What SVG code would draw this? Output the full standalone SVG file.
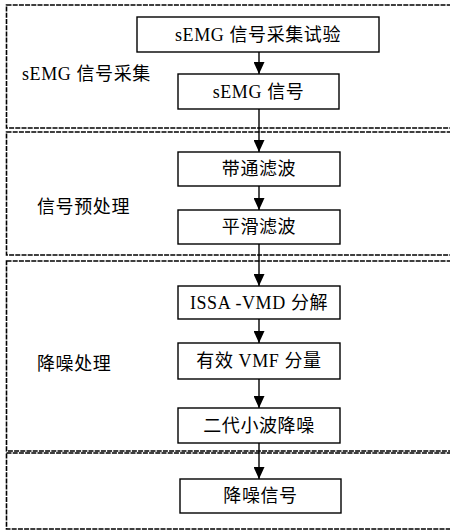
<svg xmlns="http://www.w3.org/2000/svg" width="450" height="530" viewBox="0 0 450 530">
  <style>
    .section { fill: none; stroke: #000; stroke-width: 1.6; stroke-dasharray: 5 1.2; }
    .node rect { fill: #fff; stroke: #000; stroke-width: 1.4; }
    text { font-family: "Liberation Serif", "Noto Sans CJK SC", serif; font-size: 18px; letter-spacing: 0.6px; fill: #000; }
    .node text { text-anchor: middle; }
    .link { stroke: #000; stroke-width: 1.4; fill: none; marker-end: url(#arrow); }
  </style>
  <defs>
    <marker id="arrow" markerUnits="userSpaceOnUse" markerWidth="13" markerHeight="11" refX="12" refY="5.5" orient="auto">
      <path d="M0,0 L12,5.5 L0,11 Z" fill="#000"/>
    </marker>
  </defs>
  <rect width="450" height="530" fill="#fff"/>

  <!-- stage frames -->
  <g id="stages">
    <rect class="section" x="6.5" y="5" width="460" height="123"/>
    <rect class="section" x="6.5" y="132" width="460" height="123"/>
    <rect class="section" x="6.5" y="261" width="460" height="190"/>
    <rect class="section" x="6.5" y="453" width="460" height="76"/>
    <text x="22" y="80">sEMG 信号采集</text>
    <text x="37" y="213">信号预处理</text>
    <text x="37" y="370">降噪处理</text>
  </g>

  <!-- connectors -->
  <g id="connectors">
    <line class="link" x1="259" y1="52" x2="259" y2="74"/>
    <line class="link" x1="259" y1="109" x2="259" y2="152"/>
    <line class="link" x1="259" y1="186" x2="259" y2="210"/>
    <line class="link" x1="259" y1="244" x2="259" y2="286"/>
    <line class="link" x1="259" y1="319" x2="259" y2="343"/>
    <line class="link" x1="259" y1="379" x2="259" y2="408"/>
    <line class="link" x1="259" y1="443" x2="259" y2="479"/>
  </g>

  <g id="n1" class="node"><rect x="137" y="17" width="242" height="35"/><text x="258" y="41">sEMG 信号采集试验</text></g>
  <g id="n2" class="node"><rect x="178" y="74" width="161" height="35"/><text x="258.5" y="98">sEMG 信号</text></g>
  <g id="n3" class="node"><rect x="178" y="152" width="162" height="34"/><text x="259" y="175">带通滤波</text></g>
  <g id="n4" class="node"><rect x="178" y="210" width="162" height="34"/><text x="259" y="233">平滑滤波</text></g>
  <g id="n5" class="node"><rect x="178" y="286" width="162" height="33"/><text x="259" y="309">ISSA -VMD 分解</text></g>
  <g id="n6" class="node"><rect x="178" y="343" width="162" height="36"/><text x="259" y="367">有效 VMF 分量</text></g>
  <g id="n7" class="node"><rect x="178" y="408" width="162" height="35"/><text x="259" y="432">二代小波降噪</text></g>
  <g id="n8" class="node"><rect x="180" y="479" width="161" height="34"/><text x="260.5" y="502">降噪信号</text></g>
</svg>
